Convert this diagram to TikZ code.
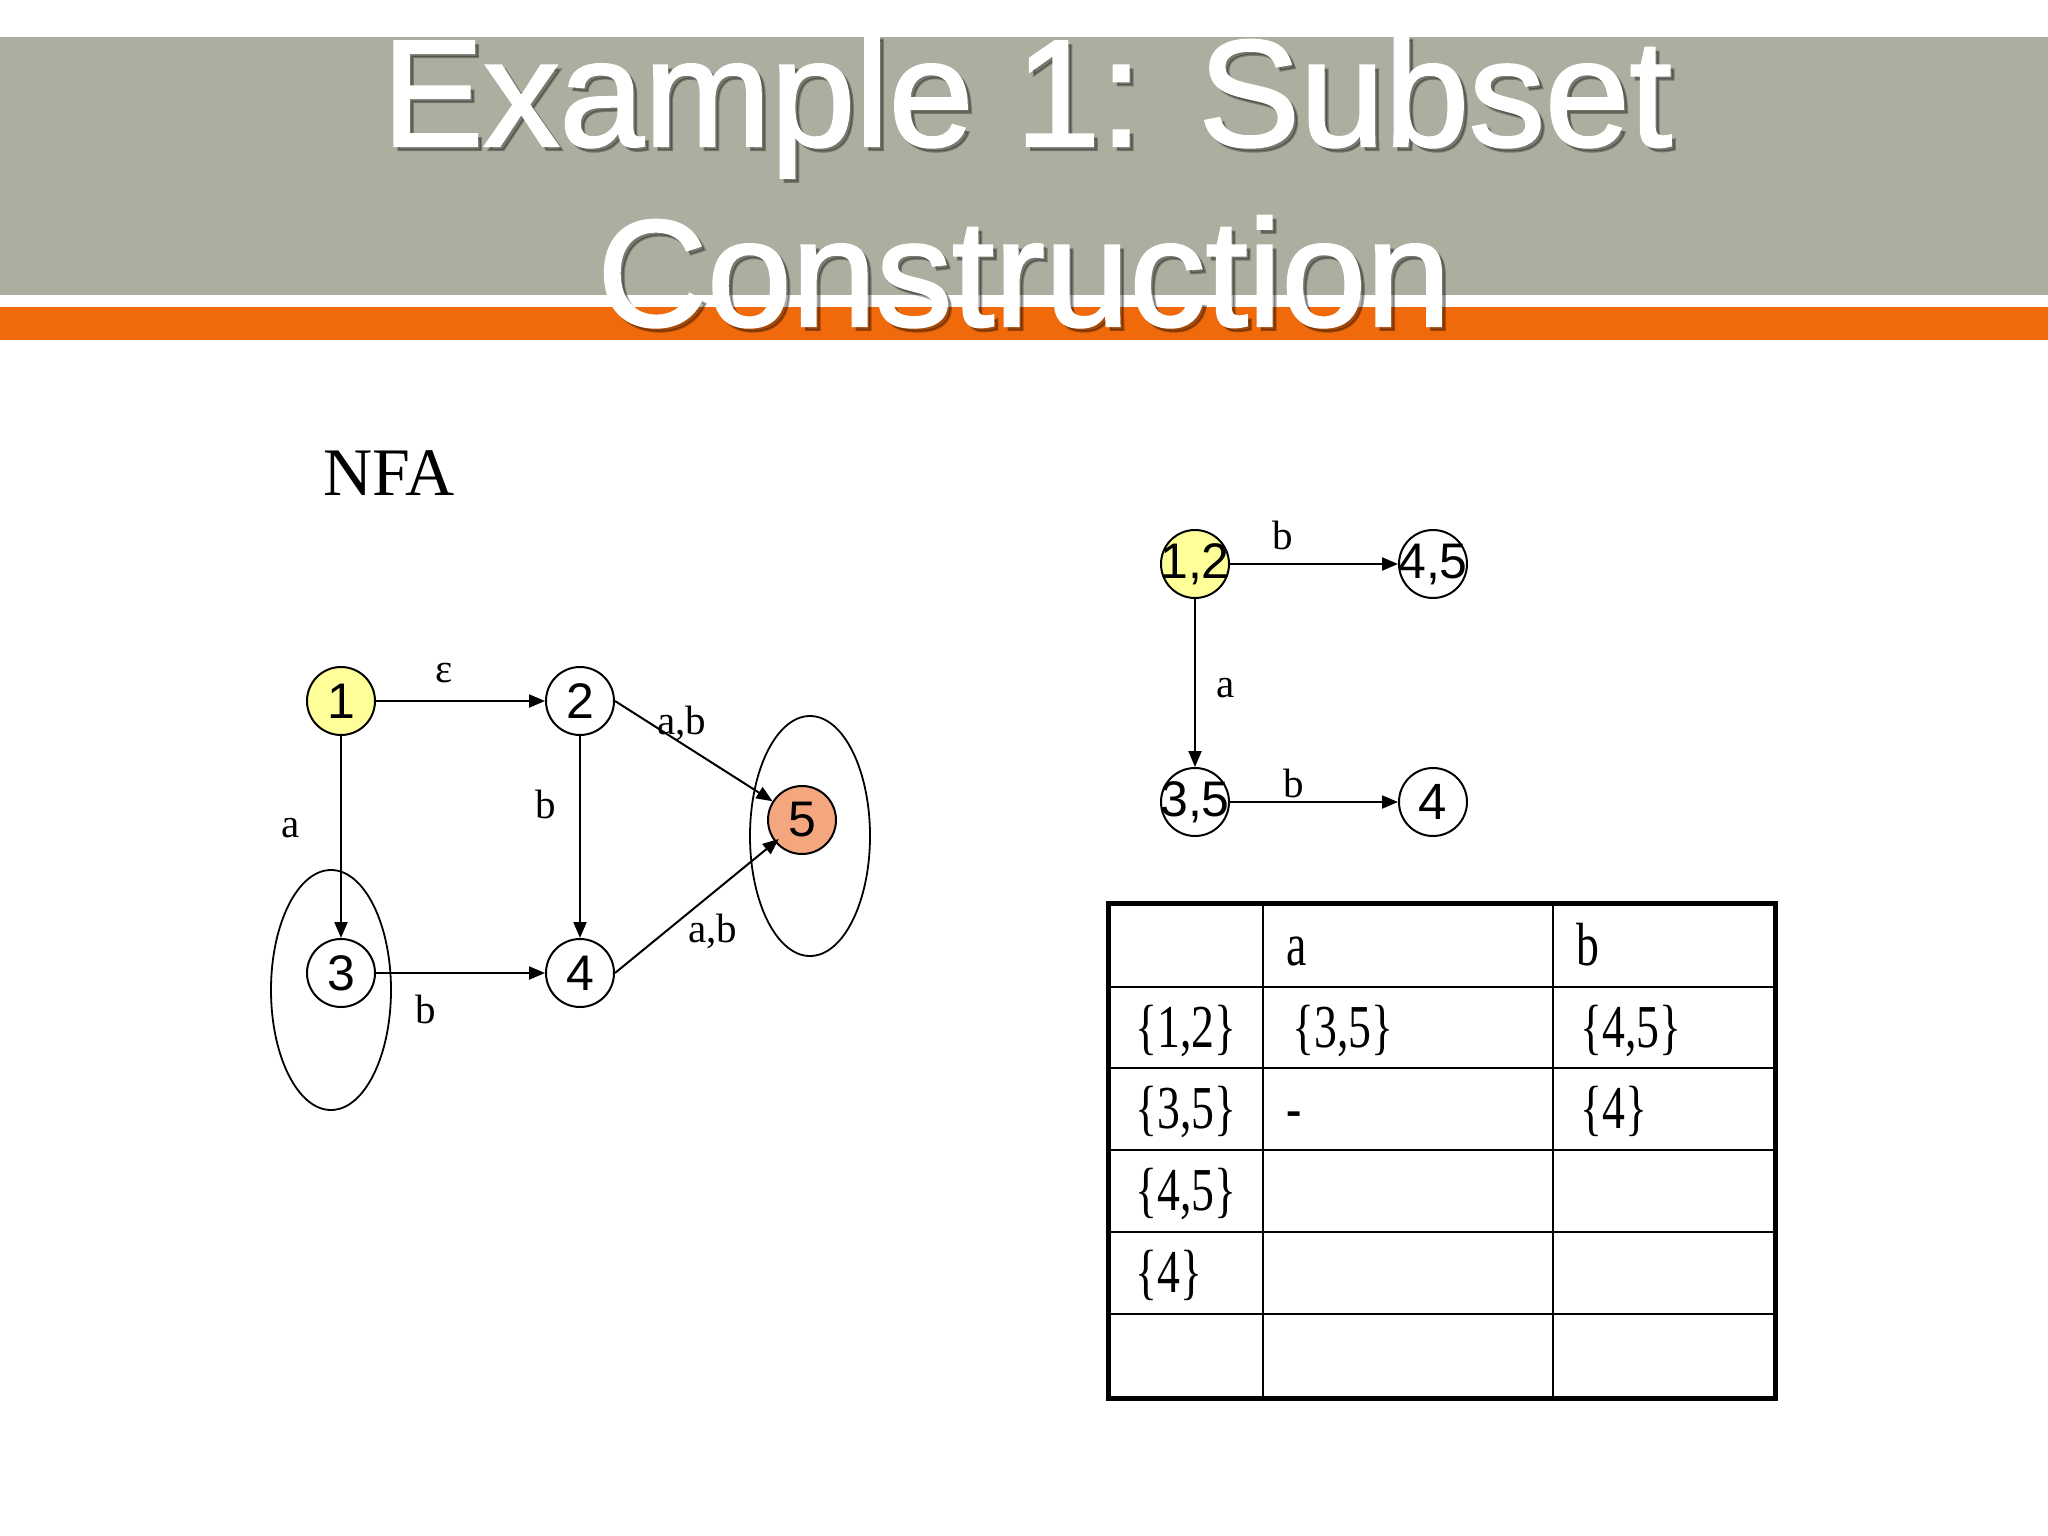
\documentclass[tikz,border=0pt]{standalone}
\usepackage{fontspec}
\setmainfont{Liberation Serif}
\newfontfamily\arialf{Liberation Sans}
\newfontface\titlef{Liberation Sans}[FakeBold=1.6]
\usetikzlibrary{arrows.meta,shapes.geometric}
\definecolor{bandgray}{RGB}{170,175,159}
\definecolor{bandorange}{RGB}{240,106,12}
\definecolor{startyel}{RGB}{255,255,153}
\definecolor{finalor}{RGB}{244,166,126}
\newcommand\mycell[1]{\scalebox{0.75}[1]{#1}}
\begin{document}
\begin{tikzpicture}[x=1pt,y=-1pt,
  titletext/.style={font=\titlef\fontsize{152}{180}\selectfont, text=white, anchor=base, inner sep=0pt},
  titleshadow/.style={font=\titlef\fontsize{152}{180}\selectfont, text=black, opacity=0.3, anchor=base, inner sep=0pt},
  nstate/.style={circle, draw, line width=2pt, minimum size=68pt, inner sep=0pt, fill=white,
                 font=\arialf\fontsize{50}{60}\selectfont},
  dstate/.style={circle, draw, line width=2pt, minimum size=68pt, inner sep=0pt, fill=white,
                 font=\arialf\fontsize{50}{58}\selectfont},
  arr/.style={draw, line width=2pt, -{Triangle[length=16pt,width=13pt]}},
  elab/.style={font=\fontsize{41}{48}\selectfont, anchor=base, inner sep=0pt},
  group/.style={ellipse, draw, line width=1.8pt, minimum width=120pt, minimum height=240pt, inner sep=0pt},
  tcell/.style={font=\fontsize{61}{70}\selectfont, anchor=base west, inner sep=0pt}
]
\useasboundingbox (0,0) rectangle (2048,1536);
\fill[white] (0,0) rectangle (2048,1536);
% header
\fill[bandgray] (0,37) rectangle (2048,295);
\fill[bandorange] (0,307) rectangle (2048,340);
\node[titleshadow] (t1s) at (1031,150) {Example 1: Subset};
\node[titleshadow] (t2s) at (1028,330) {Construction};
\node[titletext] (t1) at (1027,146) {Example 1: Subset};
\node[titletext] (t2) at (1024,326) {Construction};

% NFA
\node[font=\fontsize{68}{80}\selectfont, anchor=base west, inner sep=0pt] (nfa) at (323,495) {NFA};
\node[group] (e3) at (331,990) {};
\node[group] (e5) at (810,836) {};
\node[nstate, fill=startyel] (n1) at (341,701) {1};
\node[nstate] (n2) at (580,701) {2};
\node[nstate] (n3) at (341,973) {3};
\node[nstate] (n4) at (580,973) {4};
\node[nstate, fill=finalor] (n5) at (802,820) {5};
\draw[arr] (n1) -- (n2);
\draw[arr] (n1) -- (n3);
\draw[arr] (n2) -- (n4);
\draw[arr] (n3) -- (n4);
\draw[arr] (n2.east) -- (n5);
\draw[arr, shorten >=-5pt] (n4.east) -- (n5);
\node[elab] (l12) at (444,682) {ε};
\node[elab] (l13) at (291,837) {a};
\node[elab] (l24) at (546,818) {b};
\node[elab] (l25) at (682,734) {a,b};
\node[elab] (l45) at (713,942) {a,b};
\node[elab] (l34) at (426,1023) {b};

% DFA
\node[dstate, fill=startyel] (d12) at (1195,564) {\makebox[0pt]{1,2}};
\node[dstate] (d45) at (1433,564) {\makebox[0pt]{4,5}};
\node[dstate] (d35) at (1195,802) {\makebox[0pt]{3,5}};
\node[dstate, font=\arialf\fontsize{51}{60}\selectfont] (d4) at (1433,802) {4};
\draw[arr] (d12) -- (d45);
\draw[arr] (d12) -- (d35);
\draw[arr] (d35) -- (d4);
\node[elab] (lb1) at (1283,549) {b};
\node[elab] (la1) at (1226,697) {a};
\node[elab] (lb2) at (1294,797) {b};

% table
\foreach \yy in {987,1068,1150,1232,1314} \draw[line width=2.2pt] (1108,\yy) -- (1775,\yy);
\draw[line width=2.2pt] (1263,903) -- (1263,1398);
\draw[line width=2.2pt] (1553,903) -- (1553,1398);
\draw[line width=5pt] (1108,903) rectangle (1775,1398);
\node[tcell] (ha) at (1286,965) {\mycell{a}};
\node[tcell] (hb) at (1576,965) {\mycell{b}};
\node[tcell] (r1) at (1135,1047) {\mycell{\{1,2\}}};
\node[tcell] (r1a) at (1292,1047) {\mycell{\{3,5\}}};
\node[tcell] (r1b) at (1580,1047) {\mycell{\{4,5\}}};
\node[tcell] (r2) at (1135,1128) {\mycell{\{3,5\}}};
\node[tcell] (r2a) at (1286,1128) {\mycell{-}};
\node[tcell] (r2b) at (1580,1128) {\mycell{\{4\}}};
\node[tcell] (r3) at (1135,1210) {\mycell{\{4,5\}}};
\node[tcell] (r4) at (1135,1292) {\mycell{\{4\}}};
\end{tikzpicture}
\end{document}
